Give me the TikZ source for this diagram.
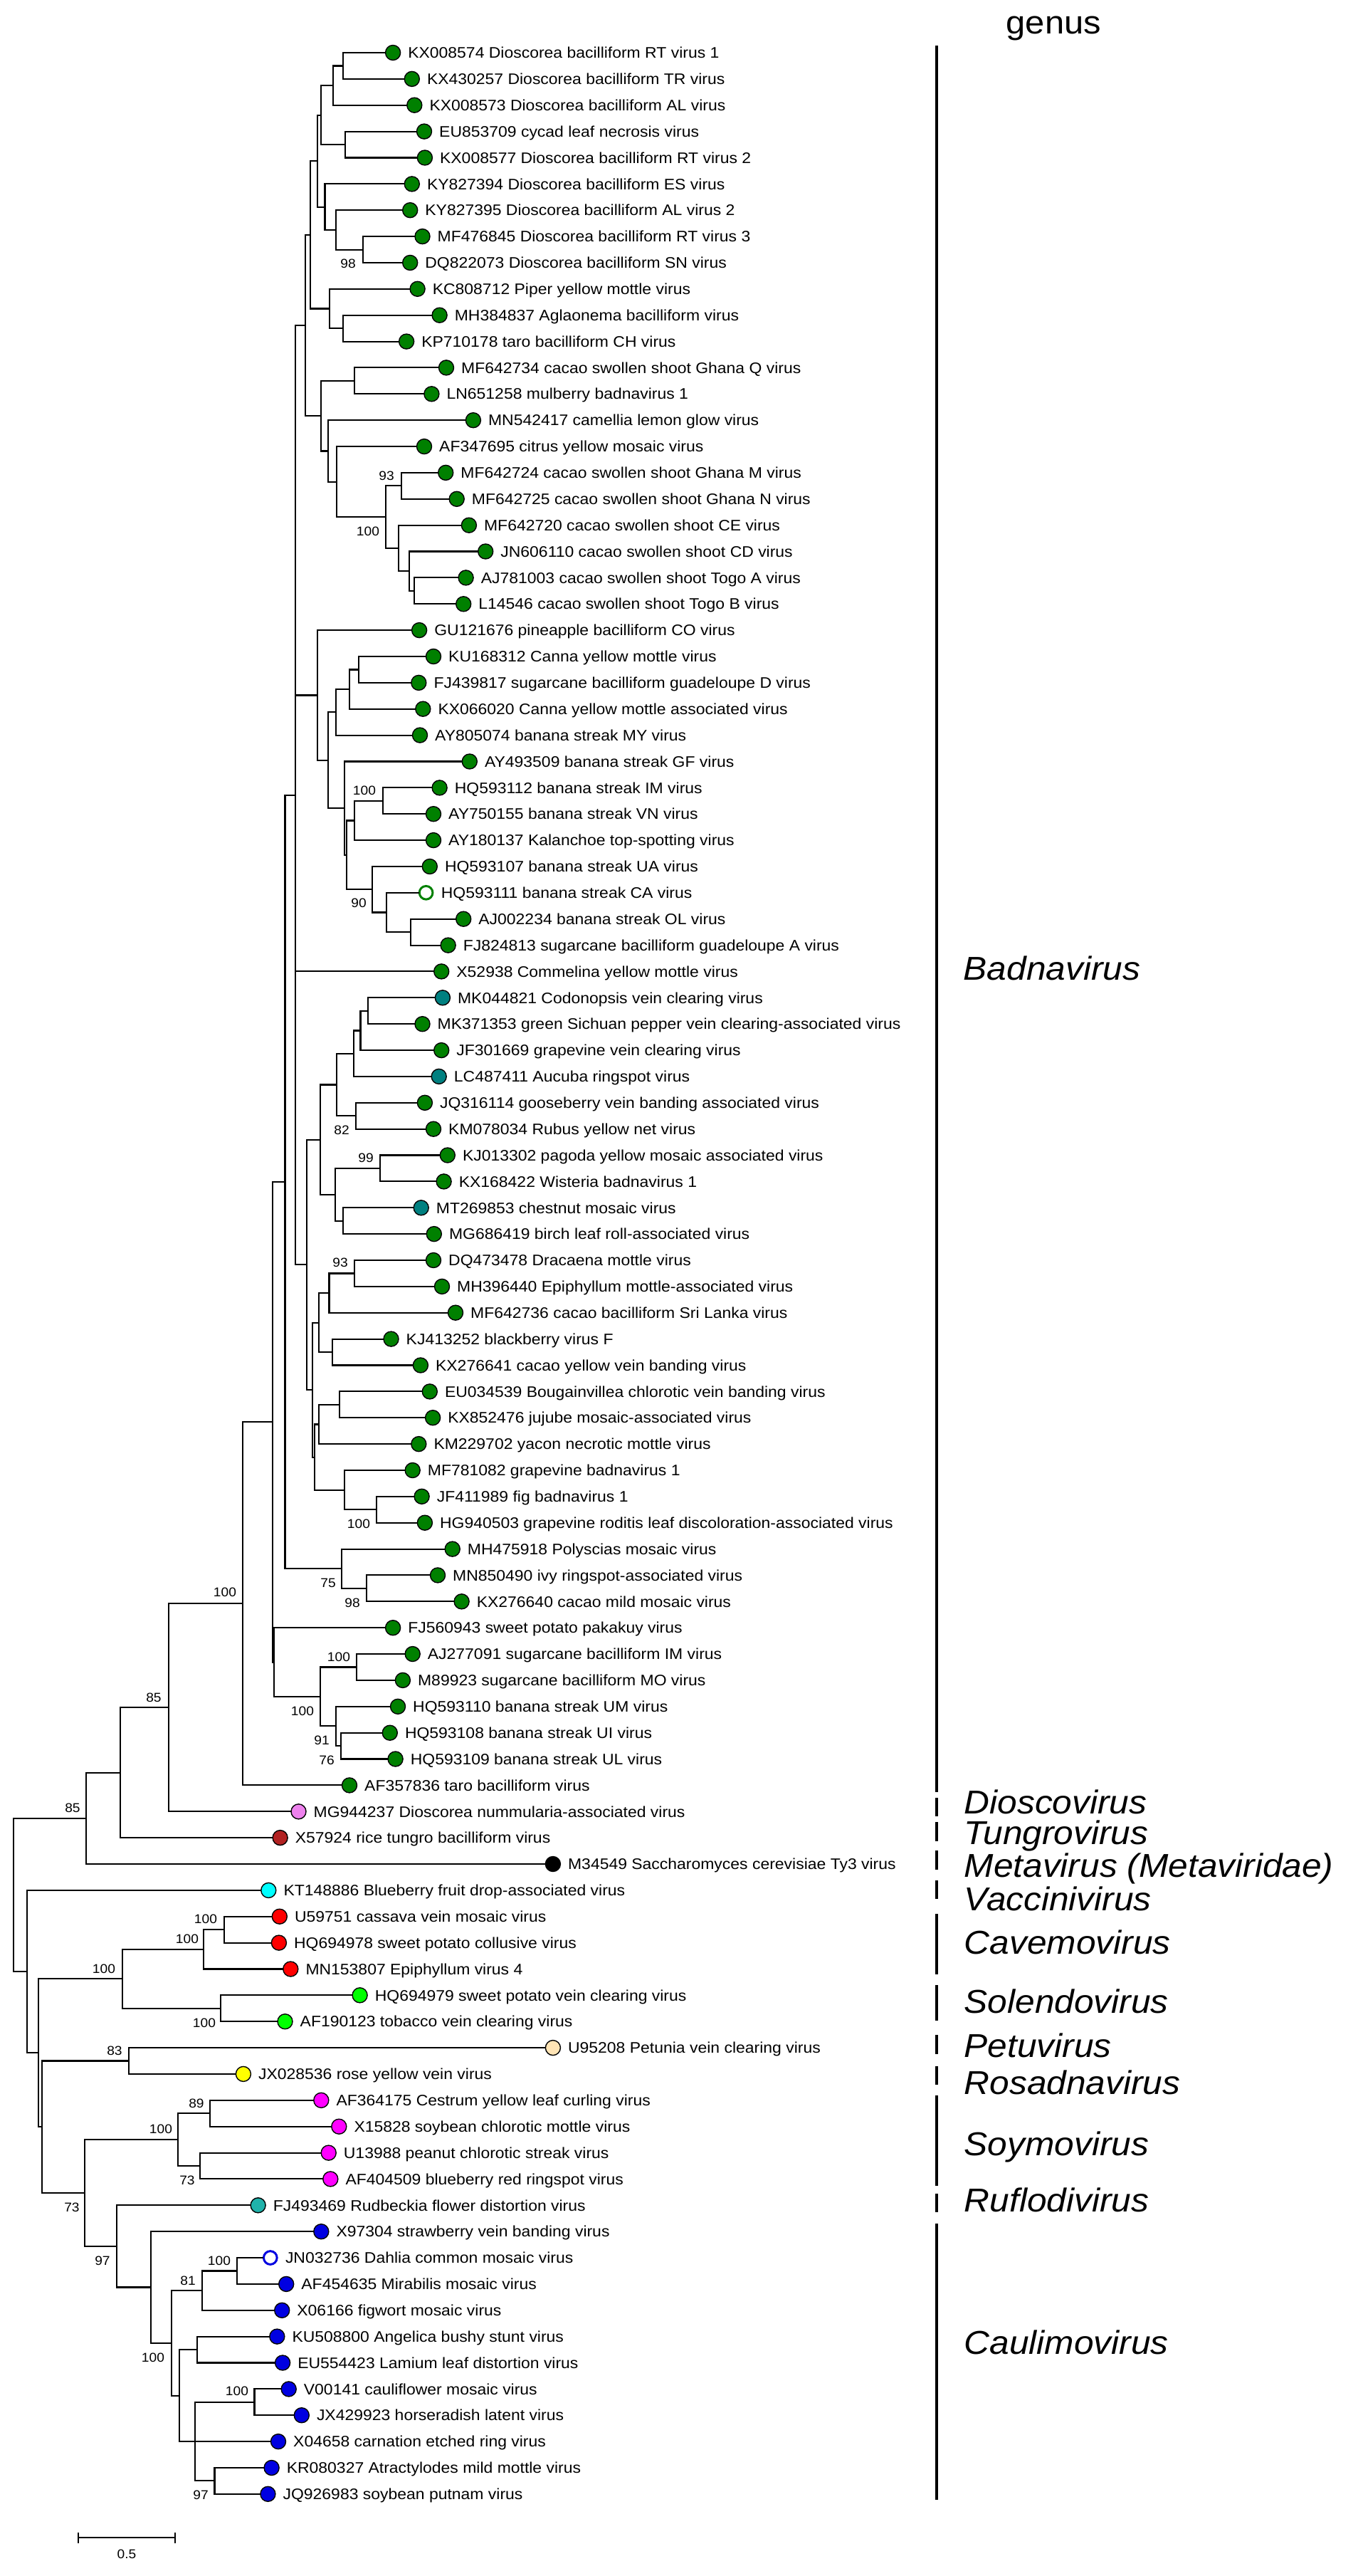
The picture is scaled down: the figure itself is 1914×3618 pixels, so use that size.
\documentclass[tikz,border=0pt]{standalone}
\usepackage{fontspec}
\setmainfont{Liberation Sans}[FakeStretch=1.07]
\definecolor{gr}{RGB}{0,128,0}
\definecolor{tl}{RGB}{0,128,128}
\definecolor{vio}{RGB}{238,130,238}
\definecolor{brk}{RGB}{178,34,34}
\definecolor{cy}{RGB}{0,255,255}
\definecolor{rd}{RGB}{255,0,0}
\definecolor{lm}{RGB}{0,255,0}
\definecolor{wh}{RGB}{255,228,181}
\definecolor{yl}{RGB}{255,255,0}
\definecolor{mg}{RGB}{255,0,255}
\definecolor{lsg}{RGB}{32,178,170}
\definecolor{bl}{RGB}{0,0,225}
\tikzset{
  br/.style={line width=0.6pt, black},
  dot/.style={circle, draw=black, line width=0.4pt, minimum size=0.21cm, inner sep=0pt, outer sep=0pt},
  odot/.style={circle, fill=white, line width=0.85pt, minimum size=0.187cm, inner sep=0pt, outer sep=0pt},
  lab/.style={font=\fontsize{6.1pt}{7pt}\selectfont, inner sep=0pt, text height=4.37pt, text depth=0pt, anchor=west},
  bs/.style={font=\fontsize{5.1pt}{6pt}\selectfont, inner sep=0pt},
  gen/.style={font=\fontsize{13.2pt}{15pt}\selectfont\itshape, inner sep=0pt, anchor=base west},
  gbar/.style={line width=1.3pt, black},
}
\newcommand\leafnode[5]{%
  \node[dot, fill=#4] (#1) at (#2,#3) {};
  \node[lab] (#1t) at ([xshift=0.205cm]#1.center) {#5};
}
\newcommand\openleaf[5]{%
  \node[odot, draw=#4] (#1) at (#2,#3) {};
  \node[lab] (#1t) at ([xshift=0.205cm]#1.center) {#5};
}
\newcommand\kids[2]{\foreach \c in {#2} {\draw[br] (#1) |- (\c);}}
\begin{document}
\begin{tikzpicture}[x=0.01cm, y=-0.01cm]
\useasboundingbox (0,0) rectangle (1914,3618);
\fill[white] (0,0) rectangle (1914,3618);

% ---------- leaves ----------
\leafnode{L1}{552.1}{74.0}{gr}{KX008574 Dioscorea bacilliform RT virus 1}
\leafnode{L2}{578.8}{110.9}{gr}{KX430257 Dioscorea bacilliform TR virus}
\leafnode{L3}{582.3}{147.7}{gr}{KX008573 Dioscorea bacilliform AL virus}
\leafnode{L4}{596.0}{184.6}{gr}{EU853709 cycad leaf necrosis virus}
\leafnode{L5}{596.9}{221.5}{gr}{KX008577 Dioscorea bacilliform RT virus 2}
\leafnode{L6}{578.8}{258.4}{gr}{KY827394 Dioscorea bacilliform ES virus}
\leafnode{L7}{576.2}{295.2}{gr}{KY827395 Dioscorea bacilliform AL virus 2}
\leafnode{L8}{593.5}{332.1}{gr}{MF476845 Dioscorea bacilliform RT virus 3}
\leafnode{L9}{576.2}{369.0}{gr}{DQ822073 Dioscorea bacilliform SN virus}
\leafnode{L10}{586.6}{405.8}{gr}{KC808712 Piper yellow mottle virus}
\leafnode{L11}{617.6}{442.7}{gr}{MH384837 Aglaonema bacilliform virus}
\leafnode{L12}{571.1}{479.6}{gr}{KP710178 taro bacilliform CH virus}
\leafnode{L13}{627.0}{516.4}{gr}{MF642734 cacao swollen shoot Ghana Q virus}
\leafnode{L14}{606.4}{553.3}{gr}{LN651258 mulberry badnavirus 1}
\leafnode{L15}{664.9}{590.2}{gr}{MN542417 camellia lemon glow virus}
\leafnode{L16}{596.0}{627.1}{gr}{AF347695 citrus yellow mosaic virus}
\leafnode{L17}{626.2}{663.9}{gr}{MF642724 cacao swollen shoot Ghana M virus}
\leafnode{L18}{641.7}{700.8}{gr}{MF642725 cacao swollen shoot Ghana N virus}
\leafnode{L19}{658.9}{737.7}{gr}{MF642720 cacao swollen shoot CE virus}
\leafnode{L20}{682.2}{774.5}{gr}{JN606110 cacao swollen shoot CD virus}
\leafnode{L21}{654.6}{811.4}{gr}{AJ781003 cacao swollen shoot Togo A virus}
\leafnode{L22}{651.2}{848.3}{gr}{L14546 cacao swollen shoot Togo B virus}
\leafnode{L23}{589.1}{885.1}{gr}{GU121676 pineapple bacilliform CO virus}
\leafnode{L24}{609.0}{922.0}{gr}{KU168312 Canna yellow mottle virus}
\leafnode{L25}{588.3}{958.9}{gr}{FJ439817 sugarcane bacilliform guadeloupe D virus}
\leafnode{L26}{594.3}{995.7}{gr}{KX066020 Canna yellow mottle associated virus}
\leafnode{L27}{590.0}{1032.6}{gr}{AY805074 banana streak MY virus}
\leafnode{L28}{659.8}{1069.5}{gr}{AY493509 banana streak GF virus}
\leafnode{L29}{617.6}{1106.4}{gr}{HQ593112 banana streak IM virus}
\leafnode{L30}{609.0}{1143.2}{gr}{AY750155 banana streak VN virus}
\leafnode{L31}{609.0}{1180.1}{gr}{AY180137 Kalanchoe top-spotting virus}
\leafnode{L32}{603.8}{1217.0}{gr}{HQ593107 banana streak UA virus}
\openleaf{L33}{598.6}{1253.8}{gr}{HQ593111 banana streak CA virus}
\leafnode{L34}{651.2}{1290.7}{gr}{AJ002234 banana streak OL virus}
\leafnode{L35}{629.6}{1327.6}{gr}{FJ824813 sugarcane bacilliform guadeloupe A virus}
\leafnode{L36}{620.2}{1364.4}{gr}{X52938 Commelina yellow mottle virus}
\leafnode{L37}{621.9}{1401.3}{tl}{MK044821 Codonopsis vein clearing virus}
\leafnode{L38}{593.5}{1438.2}{gr}{MK371353 green Sichuan pepper vein clearing-associated virus}
\leafnode{L39}{620.2}{1475.1}{gr}{JF301669 grapevine vein clearing virus}
\leafnode{L40}{616.7}{1511.9}{tl}{LC487411 Aucuba ringspot virus}
\leafnode{L41}{596.9}{1548.8}{gr}{JQ316114 gooseberry vein banding associated virus}
\leafnode{L42}{609.0}{1585.7}{gr}{KM078034 Rubus yellow net virus}
\leafnode{L43}{628.8}{1622.5}{gr}{KJ013302 pagoda yellow mosaic associated virus}
\leafnode{L44}{623.6}{1659.4}{gr}{KX168422 Wisteria badnavirus 1}
\leafnode{L45}{591.7}{1696.3}{tl}{MT269853 chestnut mosaic virus}
\leafnode{L46}{609.8}{1733.1}{gr}{MG686419 birch leaf roll-associated virus}
\leafnode{L47}{609.0}{1770.0}{gr}{DQ473478 Dracaena mottle virus}
\leafnode{L48}{621.0}{1806.9}{gr}{MH396440 Epiphyllum mottle-associated virus}
\leafnode{L49}{640.0}{1843.7}{gr}{MF642736 cacao bacilliform Sri Lanka virus}
\leafnode{L50}{549.5}{1880.6}{gr}{KJ413252 blackberry virus F}
\leafnode{L51}{590.9}{1917.5}{gr}{KX276641 cacao yellow vein banding virus}
\leafnode{L52}{603.8}{1954.4}{gr}{EU034539 Bougainvillea chlorotic vein banding virus}
\leafnode{L53}{608.1}{1991.2}{gr}{KX852476 jujube mosaic-associated virus}
\leafnode{L54}{588.3}{2028.1}{gr}{KM229702 yacon necrotic mottle virus}
\leafnode{L55}{579.7}{2065.0}{gr}{MF781082 grapevine badnavirus 1}
\leafnode{L56}{592.6}{2101.8}{gr}{JF411989 fig badnavirus 1}
\leafnode{L57}{596.9}{2138.7}{gr}{HG940503 grapevine roditis leaf discoloration-associated virus}
\leafnode{L58}{635.7}{2175.6}{gr}{MH475918 Polyscias mosaic virus}
\leafnode{L59}{615.0}{2212.4}{gr}{MN850490 ivy ringspot-associated virus}
\leafnode{L60}{648.6}{2249.3}{gr}{KX276640 cacao mild mosaic virus}
\leafnode{L61}{552.1}{2286.2}{gr}{FJ560943 sweet potato pakakuy virus}
\leafnode{L62}{579.7}{2323.0}{gr}{AJ277091 sugarcane bacilliform IM virus}
\leafnode{L63}{565.9}{2359.9}{gr}{M89923 sugarcane bacilliform MO virus}
\leafnode{L64}{559.0}{2396.8}{gr}{HQ593110 banana streak UM virus}
\leafnode{L65}{547.8}{2433.7}{gr}{HQ593108 banana streak UI virus}
\leafnode{L66}{555.6}{2470.5}{gr}{HQ593109 banana streak UL virus}
\leafnode{L67}{491.0}{2507.4}{gr}{AF357836 taro bacilliform virus}
\leafnode{L68}{419.5}{2544.3}{vio}{MG944237 Dioscorea nummularia-associated virus}
\leafnode{L69}{393.6}{2581.1}{brk}{X57924 rice tungro bacilliform virus}
\leafnode{L70}{776.9}{2618.0}{black}{M34549 Saccharomyces cerevisiae Ty3 virus}
\leafnode{L71}{377.3}{2654.9}{cy}{KT148886 Blueberry fruit drop-associated virus}
\leafnode{L72}{392.8}{2691.7}{rd}{U59751 cassava vein mosaic virus}
\leafnode{L73}{391.9}{2728.6}{rd}{HQ694978 sweet potato collusive virus}
\leafnode{L74}{408.3}{2765.5}{rd}{MN153807 Epiphyllum virus 4}
\leafnode{L75}{505.6}{2802.3}{lm}{HQ694979 sweet potato vein clearing virus}
\leafnode{L76}{400.5}{2839.2}{lm}{AF190123 tobacco vein clearing virus}
\leafnode{L77}{776.9}{2876.1}{wh}{U95208 Petunia vein clearing virus}
\leafnode{L78}{341.9}{2912.9}{yl}{JX028536 rose yellow vein virus}
\leafnode{L79}{451.3}{2949.8}{mg}{AF364175 Cestrum yellow leaf curling virus}
\leafnode{L80}{476.3}{2986.7}{mg}{X15828 soybean chlorotic mottle virus}
\leafnode{L81}{461.7}{3023.6}{mg}{U13988 peanut chlorotic streak virus}
\leafnode{L82}{464.3}{3060.4}{mg}{AF404509 blueberry red ringspot virus}
\leafnode{L83}{362.6}{3097.3}{lsg}{FJ493469 Rudbeckia flower distortion virus}
\leafnode{L84}{451.3}{3134.2}{bl}{X97304 strawberry vein banding virus}
\openleaf{L85}{379.8}{3171.0}{bl}{JN032736 Dahlia common mosaic virus}
\leafnode{L86}{402.2}{3207.9}{bl}{AF454635 Mirabilis mosaic virus}
\leafnode{L87}{396.2}{3244.8}{bl}{X06166 figwort mosaic virus}
\leafnode{L88}{389.3}{3281.6}{bl}{KU508800 Angelica bushy stunt virus}
\leafnode{L89}{397.1}{3318.5}{bl}{EU554423 Lamium leaf distortion virus}
\leafnode{L90}{405.7}{3355.4}{bl}{V00141 cauliflower mosaic virus}
\leafnode{L91}{423.8}{3392.2}{bl}{JX429923 horseradish latent virus}
\leafnode{L92}{391.0}{3429.1}{bl}{X04658 carnation etched ring virus}
\leafnode{L93}{381.6}{3466.0}{bl}{KR080327 Atractylodes mild mottle virus}
\leafnode{L94}{376.4}{3502.8}{bl}{JQ926983 soybean putnam virus}

% ---------- internal nodes ----------
\coordinate (a1) at (482.3,92.5);
\coordinate (a2) at (467.7,120.1);
\coordinate (a3) at (484.9,203.1);
\coordinate (a4) at (451.0,161.6);
\coordinate (b1) at (509.9,350.6);
\coordinate (b2) at (472.0,322.9);
\coordinate (b3) at (456.5,290.7);
\coordinate (c1) at (446.2,226.2);
\coordinate (d1) at (482.3,461.2);
\coordinate (d2) at (463.4,433.5);
\coordinate (e1) at (436.3,329.9);
\coordinate (f1) at (497.8,534.9);
\coordinate (g1) at (564.2,682.4);
\coordinate (g2) at (582.3,829.9);
\coordinate (g3) at (575.4,802.2);
\coordinate (g4) at (559.9,770.0);
\coordinate (g5) at (541.8,726.2);
\coordinate (g6) at (472.9,676.7);
\coordinate (g7) at (460.8,633.5);
\coordinate (g8) at (451.3,584.2);
\coordinate (h1) at (428.9,457.1);
\coordinate (i1) at (503.9,940.5);
\coordinate (i2) at (491.0,968.1);
\coordinate (i3) at (472.0,1000.4);
\coordinate (j1) at (538.3,1124.8);
\coordinate (j2) at (497.8,1152.5);
\coordinate (k1) at (577.1,1309.2);
\coordinate (k2) at (542.6,1281.5);
\coordinate (k3) at (522.8,1249.3);
\coordinate (k4) at (486.6,1200.9);
\coordinate (k5) at (484.1,1135.2);
\coordinate (k6) at (460.8,1067.8);
\coordinate (k7) at (446.2,976.5);
\coordinate (m1) at (516.8,1419.8);
\coordinate (m2) at (506.5,1447.5);
\coordinate (m3) at (497.0,1479.7);
\coordinate (m4) at (499.6,1567.3);
\coordinate (m5) at (472.9,1523.5);
\coordinate (m6) at (534.0,1641.0);
\coordinate (m7) at (482.3,1714.7);
\coordinate (m8) at (471.1,1677.8);
\coordinate (m9) at (449.6,1600.7);
\coordinate (n1) at (497.8,1788.5);
\coordinate (n2) at (462.5,1816.1);
\coordinate (n3) at (466.8,1899.0);
\coordinate (n4) at (447.9,1857.6);
\coordinate (n5) at (477.2,1972.8);
\coordinate (n6) at (447.9,2000.5);
\coordinate (n7) at (528.9,2120.3);
\coordinate (n8) at (484.1,2092.6);
\coordinate (n9) at (442.3,2046.6);
\coordinate (n10) at (439.3,1952.1);
\coordinate (n11) at (430.7,1776.4);
\coordinate (kp) at (415.2,1116.8);
\coordinate (o1) at (515.1,2230.9);
\coordinate (o2) at (479.8,2203.2);
\coordinate (ko) at (400.5,1660.0);
\coordinate (p1) at (501.3,2341.5);
\coordinate (p2) at (478.9,2452.1);
\coordinate (p3) at (472.0,2424.4);
\coordinate (p4) at (449.6,2383.0);
\coordinate (q1) at (385.0,2334.6);
\coordinate (q2) at (383.3,1997.3);
\coordinate (r1) at (341.1,2252.4);
\coordinate (s1) at (236.9,2398.4);
\coordinate (t1) at (168.8,2489.8);
\coordinate (u1) at (121.4,2553.9);
\coordinate (v1) at (315.2,2710.2);
\coordinate (v2) at (286.0,2737.9);
\coordinate (v3) at (310.1,2820.8);
\coordinate (v4) at (172.3,2779.3);
\coordinate (w1) at (180.9,2894.5);
\coordinate (w2) at (295.4,2968.3);
\coordinate (w3) at (280.8,3042.0);
\coordinate (w4) at (249.8,3005.1);
\coordinate (x1) at (333.3,3189.5);
\coordinate (x2) at (284.2,3217.1);
\coordinate (x3) at (277.3,3300.1);
\coordinate (x4) at (357.5,3373.8);
\coordinate (x5) at (301.5,3484.4);
\coordinate (x6) at (273.9,3429.1);
\coordinate (x7) at (252.4,3364.6);
\coordinate (x8) at (241.2,3290.9);
\coordinate (x9) at (211.9,3212.5);
\coordinate (x10) at (163.7,3154.9);
\coordinate (x11) at (118.9,3080.0);
\coordinate (y1) at (58.6,2987.3);
\coordinate (y2) at (54.3,2883.3);
\coordinate (y3) at (37.9,2769.1);
\coordinate (root) at (18.9,2661.5);

% ---------- branches ----------
\kids{a1}{L1,L2}
\kids{a2}{a1,L3}
\kids{a3}{L4,L5}
\kids{a4}{a2,a3}
\kids{b1}{L8,L9}
\kids{b2}{L7,b1}
\kids{b3}{L6,b2}
\kids{c1}{a4,b3}
\kids{d1}{L11,L12}
\kids{d2}{L10,d1}
\kids{e1}{c1,d2}
\kids{f1}{L13,L14}
\kids{g1}{L17,L18}
\kids{g2}{L21,L22}
\kids{g3}{L20,g2}
\kids{g4}{L19,g3}
\kids{g5}{g1,g4}
\kids{g6}{L16,g5}
\kids{g7}{L15,g6}
\kids{g8}{f1,g7}
\kids{h1}{e1,g8}
\kids{i1}{L24,L25}
\kids{i2}{i1,L26}
\kids{i3}{i2,L27}
\kids{j1}{L29,L30}
\kids{j2}{j1,L31}
\kids{k1}{L34,L35}
\kids{k2}{L33,k1}
\kids{k3}{L32,k2}
\kids{k4}{j2,k3}
\kids{k5}{L28,k4}
\kids{k6}{i3,k5}
\kids{k7}{L23,k6}
\kids{m1}{L37,L38}
\kids{m2}{m1,L39}
\kids{m3}{m2,L40}
\kids{m4}{L41,L42}
\kids{m5}{m3,m4}
\kids{m6}{L43,L44}
\kids{m7}{L45,L46}
\kids{m8}{m6,m7}
\kids{m9}{m5,m8}
\kids{n1}{L47,L48}
\kids{n2}{n1,L49}
\kids{n3}{L50,L51}
\kids{n4}{n2,n3}
\kids{n5}{L52,L53}
\kids{n6}{n5,L54}
\kids{n7}{L56,L57}
\kids{n8}{L55,n7}
\kids{n9}{n6,n8}
\kids{n10}{n4,n9}
\kids{n11}{m9,n10}
\kids{kp}{h1,k7,L36,n11}
\kids{o1}{L59,L60}
\kids{o2}{L58,o1}
\kids{ko}{kp,o2}
\kids{p1}{L62,L63}
\kids{p2}{L65,L66}
\kids{p3}{L64,p2}
\kids{p4}{p1,p3}
\kids{q1}{L61,p4}
\kids{q2}{ko,q1}
\kids{r1}{q2,L67}
\kids{s1}{r1,L68}
\kids{t1}{s1,L69}
\kids{u1}{t1,L70}
\kids{v1}{L72,L73}
\kids{v2}{v1,L74}
\kids{v3}{L75,L76}
\kids{v4}{v2,v3}
\kids{w1}{L77,L78}
\kids{w2}{L79,L80}
\kids{w3}{L81,L82}
\kids{w4}{w2,w3}
\kids{x1}{L85,L86}
\kids{x2}{x1,L87}
\kids{x3}{L88,L89}
\kids{x4}{L90,L91}
\kids{x5}{L93,L94}
\kids{x6}{x4,L92,x5}
\kids{x7}{x3,x6}
\kids{x8}{x2,x7}
\kids{x9}{L84,x8}
\kids{x10}{L83,x9}
\kids{x11}{w4,x10}
\kids{y1}{w1,x11}
\kids{y2}{v4,y1}
\kids{y3}{L71,y2}
\kids{root}{u1,y3}

% ---------- bootstrap values ----------
\node[bs] (bs1) at (489,370) {98};
\node[bs] (bs2) at (543,668) {93};
\node[bs] (bs3) at (517,746) {100};
\node[bs] (bs4) at (512,1110) {100};
\node[bs] (bs5) at (504,1268) {90};
\node[bs] (bs6) at (480,1587) {82};
\node[bs] (bs7) at (514,1626) {99};
\node[bs] (bs8) at (478,1773) {93};
\node[bs] (bs9) at (504,2140) {100};
\node[bs] (bs10) at (461,2223) {75};
\node[bs] (bs11) at (495,2251) {98};
\node[bs] (bs12) at (316,2236) {100};
\node[bs] (bs13) at (476,2327) {100};
\node[bs] (bs14) at (216,2384) {85};
\node[bs] (bs15) at (425,2403) {100};
\node[bs] (bs16) at (452,2444) {91};
\node[bs] (bs17) at (459,2472) {76};
\node[bs] (bs18) at (102,2539) {85};
\node[bs] (bs19) at (289,2695) {100};
\node[bs] (bs20) at (263,2723) {100};
\node[bs] (bs21) at (146,2765) {100};
\node[bs] (bs22) at (287,2841) {100};
\node[bs] (bs23) at (161,2880) {83};
\node[bs] (bs24) at (276,2954) {89};
\node[bs] (bs25) at (226,2990) {100};
\node[bs] (bs26) at (263,3062) {73};
\node[bs] (bs27) at (101,3100) {73};
\node[bs] (bs28) at (144,3175) {97};
\node[bs] (bs29) at (308,3175) {100};
\node[bs] (bs30) at (264,3203) {81};
\node[bs] (bs31) at (215,3311) {100};
\node[bs] (bs32) at (333,3358) {100};
\node[bs] (bs33) at (282,3504) {97};

% ---------- genus column ----------
\node[font=\fontsize{13pt}{15pt}\selectfont, inner sep=0pt, anchor=base west] (gtitle) at (1413,48) {genus};
\foreach \a/\b [count=\i] in {64/2517, 2525/2551, 2559/2586, 2599/2626, 2641/2667, 2688/2773, 2788/2838, 2858/2885, 2902/2928, 2943/3070, 3081/3107, 3123/3511} {
  \coordinate (gs\i) at (1316,\a);
  \coordinate (ge\i) at (1316,\b);
  \draw[gbar] (gs\i) -- (ge\i);
}
\node[gen] (gBad) at (1353,1376.7) {Badnavirus};
\node[gen] (gDio) at (1354,2547.6) {Dioscovirus};
\node[gen] (gTun) at (1354,2590.3) {Tungrovirus};
\node[gen] (gMet) at (1354,2636.9) {Metavirus (Metaviridae)};
\node[gen] (gVac) at (1354,2683.5) {Vaccinivirus};
\node[gen] (gCav) at (1354,2744.1) {Cavemovirus};
\node[gen] (gSol) at (1354,2827.2) {Solendovirus};
\node[gen] (gPet) at (1354,2889.4) {Petuvirus};
\node[gen] (gRos) at (1354,2941.4) {Rosadnavirus};
\node[gen] (gSoy) at (1354,3027.6) {Soymovirus};
\node[gen] (gRuf) at (1354,3106.9) {Ruflodivirus};
\node[gen] (gCau) at (1354,3306.5) {Caulimovirus};

% ---------- scale bar ----------
\coordinate (sbl) at (110,3564);
\coordinate (sbr) at (246,3564);
\draw[br] (sbl) -- (sbr);
\draw[br] ([yshift=0.07cm]sbl) -- ([yshift=-0.08cm]sbl);
\draw[br] ([yshift=0.07cm]sbr) -- ([yshift=-0.08cm]sbr);
\node[bs] (sbt) at (178,3587) {0.5};
\end{tikzpicture}
\end{document}
